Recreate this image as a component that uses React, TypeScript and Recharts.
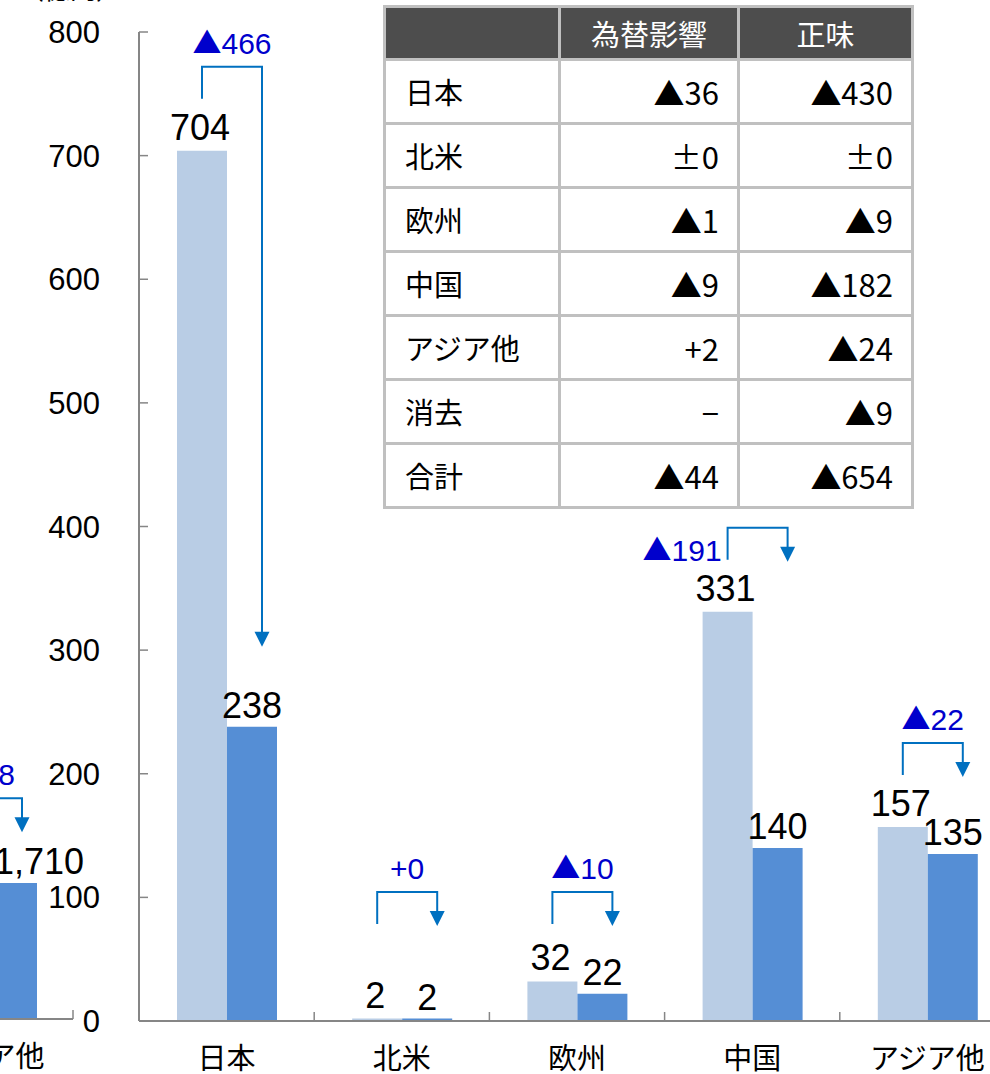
import { BarChart, Bar, XAxis, YAxis, LabelList } from "recharts";

// main chart: 前期 (light) vs 当期 (dark), 億円
const categories = ["日本", "北米", "欧州", "中国", "アジア他"];
const prevValues = [704, 2, 32, 331, 157];
const currValues = [238, 2, 22, 140, 135];
const changeLabels = ["▲466", "+0", "▲10", "▲191", "▲22"];
const yTicks = [0, 100, 200, 300, 400, 500, 600, 700, 800];

// the neighbouring chart, cut off at the left edge
const leftCategories = ["アジア他"];
const leftPrev = [1718];
const leftCurr = [1710];
const leftChangeLabels = ["▲8"];

// breakdown table
const tableHeader = ["", "為替影響", "正味"];
const tableRegions = ["日本", "北米", "欧州", "中国", "アジア他", "消去", "合計"];
const fxImpact = ["▲36", "±0", "▲1", "▲9", "+2", "−", "▲44"];
const organic = ["▲430", "±0", "▲9", "▲182", "▲24", "▲9", "▲654"];

const data = categories.map((c, i) => ({ category: c, prev: prevValues[i], curr: currValues[i] }));
const leftData = leftCategories.map((c, i) => ({ category: c, prev: leftPrev[i], curr: leftCurr[i] }));

const LIGHT = "#b9cde5";
const DARK = "#558ed5";
const ARROW = "#0070c0";
const BLUE_TEXT = "#0000cc";
const AXIS = "#868686";
const FONT = '"Liberation Sans", Arial, "Noto Sans CJK JP", sans-serif';
const JP = '"Noto Sans CJK JP", "Noto Sans CJK SC", sans-serif';

const H = 1074;
const MAIN_W = 1015;
const Y_AXIS_W = 139;
const MAIN_BAND = (MAIN_W - Y_AXIS_W) / categories.length;
const LEFT_W = 172;
const LEFT_PAD = 120; // room on the right of the cut chart so its labels are not clipped
const TABLE_BOX = { left: 383, right: 914, bottom: 509 };

function CategoryTick(props: any) {
  const { x, y, payload, band } = props;
  return (
    <g>
      <line x1={x + band / 2} x2={x + band / 2} y1={y - 9} y2={y} stroke={AXIS} strokeWidth={1.5} />
      <text x={x} y={y + 48} textAnchor="middle" fontFamily={JP} fontSize={29} fill="#000">
        {payload.value}
      </text>
    </g>
  );
}

function ValueTick(props: any) {
  const { x, y, payload } = props;
  return (
    <g>
      <line x1={x} x2={x + 9} y1={y} y2={y} stroke={AXIS} strokeWidth={1.5} />
      <text x={x - 39} y={y + 11} textAnchor="end" fontFamily={FONT} fontSize={31} fill="#000">
        {payload.value}
      </text>
    </g>
  );
}

function box(props: any) {
  const vb = props.viewBox || {};
  return {
    x: vb.x ?? props.x,
    y: vb.y ?? props.y,
    width: vb.width ?? props.width,
    height: vb.height ?? props.height,
  };
}

// big ▲ like the original, digits in the latin font
function ChangeText({ label }: { label: string }) {
  if (label.startsWith("▲")) {
    return (
      <>
        <tspan fontFamily={JP} fontSize={29}>▲</tspan>
        <tspan>{label.slice(1)}</tspan>
      </>
    );
  }
  return <>{label}</>;
}

// light bar label + the bracket arrow to the dark bar + the blue change label
function makePrevLabel(prev: number[], curr: number[], changes: string[], shiftX: number) {
  return (props: any) => {
    const i = props.index;
    const { x, y, width, height } = box(props);
    const cxL = x + width / 2;
    const cxD = x + width * 1.5;
    const yZero = y + height;
    const ppu = height / prev[i];
    const yDark = yZero - curr[i] * ppu;
    const top = Math.min(y - 84, yZero - 129);
    const leftBottom = top + 32;
    const right = cxD + 10;
    const tip = prev[i] - curr[i] > 300 ? yDark - 80 : top + 34;
    const center = (cxL + right) / 2;
    const pageX = center + shiftX;
    const hitsTable = pageX > TABLE_BOX.left && pageX < TABLE_BOX.right && top - 40 < TABLE_BOX.bottom;
    return (
      <g>
        <text x={cxL - 2} y={y - 11} textAnchor="middle" fontFamily={FONT} fontSize={36} fill="#000">
          {prev[i]}
        </text>
        <path
          d={`M${cxL},${leftBottom} V${top} H${right} V${tip - 14}`}
          fill="none"
          stroke={ARROW}
          strokeWidth={2}
        />
        <polygon points={`${right - 7.5},${tip - 15} ${right + 7.5},${tip - 15} ${right},${tip}`} fill={ARROW} />
        {hitsTable ? (
          <text x={cxL - 6} y={top + 33} textAnchor="end" fontFamily={FONT} fontSize={30} fill={BLUE_TEXT}>
            <ChangeText label={changes[i]} />
          </text>
        ) : (
          <text x={center} y={top - 13} textAnchor="middle" fontFamily={FONT} fontSize={30} fill={BLUE_TEXT}>
            <ChangeText label={changes[i]} />
          </text>
        )}
      </g>
    );
  };
}

function makeCurrLabel(curr: number[], dx: number) {
  return (props: any) => {
    const i = props.index;
    const { x, y, width } = box(props);
    return (
      <text x={x + width / 2 + dx} y={y - 9} textAnchor="middle" fontFamily={FONT} fontSize={36} fill="#000">
        {curr[i].toLocaleString("en-US")}
      </text>
    );
  };
}

function Table() {
  const cell = { padding: 0, height: 61, lineHeight: 1, background: "#fff", color: "#000" };
  return (
    <table
      style={{
        position: "absolute",
        left: 383,
        top: 5,
        borderSpacing: 3,
        background: "#c0c0c0",
        fontFamily: JP,
        fontSize: 30,
      }}
    >
      <tbody>
        <tr>
          {tableHeader.map((h, k) => (
            <td
              key={k}
              style={{
                padding: 0,
                height: 50,
                lineHeight: 1,
                width: [172, 176, 171][k],
                background: "#4d4d4d",
                color: "#fff",
                textAlign: "center",
                fontSize: 29,
              }}
            >
              {h}
            </td>
          ))}
        </tr>
        {tableRegions.map((r, i) => (
          <tr key={r}>
            <td style={{ ...cell, width: 153, paddingLeft: 19, fontSize: 29 }}>{r}</td>
            <td style={{ ...cell, width: 158, paddingRight: 18, textAlign: "right", fontSize: 31 }}>{fxImpact[i]}</td>
            <td style={{ ...cell, width: 153, paddingRight: 18, textAlign: "right", fontSize: 31 }}>{organic[i]}</td>
          </tr>
        ))}
      </tbody>
    </table>
  );
}

export default function App() {
  return (
    <div
      style={{
        position: "absolute",
        left: 0,
        top: 0,
        width: 990,
        height: H,
        overflow: "hidden",
        background: "#fff",
      }}
    >
      <div style={{ position: "absolute", left: 18, top: -25, fontFamily: JP, fontSize: 26, lineHeight: 1 }}>
        （億円）
      </div>

      {/* neighbouring chart, mostly outside the frame */}
      <div style={{ position: "absolute", left: -99, top: 0 }}>
        <BarChart
          width={LEFT_W + LEFT_PAD}
          height={H}
          data={leftData}
          margin={{ top: 32, right: LEFT_PAD, bottom: 0, left: 0 }}
          barSize={50}
          barGap={0}
        >
          <XAxis
            dataKey="category"
            height={55}
            axisLine={{ stroke: AXIS, strokeWidth: 2 }}
            tickLine={false}
            tickSize={0}
            tickMargin={0}
            interval={0}
            tick={(p: any) => <CategoryTick {...p} band={LEFT_W} />}
          />
          <YAxis hide domain={[0, 12400]} />
          <Bar dataKey="prev" fill={LIGHT} isAnimationActive={false}>
            <LabelList dataKey="prev" content={makePrevLabel(leftPrev, leftCurr, leftChangeLabels, -99)} />
          </Bar>
          <Bar dataKey="curr" fill={DARK} isAnimationActive={false}>
            <LabelList dataKey="curr" content={makeCurrLabel(leftCurr, 27)} />
          </Bar>
        </BarChart>
      </div>

      <div style={{ position: "absolute", left: 0, top: 0 }}>
        <BarChart
          width={MAIN_W}
          height={H}
          data={data}
          margin={{ top: 32, right: 0, bottom: 0, left: 0 }}
          barSize={50}
          barGap={0}
        >
          <XAxis
            dataKey="category"
            height={53}
            axisLine={{ stroke: AXIS, strokeWidth: 2 }}
            tickLine={false}
            tickSize={0}
            tickMargin={0}
            interval={0}
            tick={(p: any) => <CategoryTick {...p} band={MAIN_BAND} />}
          />
          <YAxis
            width={Y_AXIS_W}
            domain={[0, 800]}
            ticks={yTicks}
            interval={0}
            axisLine={{ stroke: AXIS, strokeWidth: 2 }}
            tickLine={false}
            tickSize={0}
            tickMargin={0}
            tick={(p: any) => <ValueTick {...p} />}
          />
          <Bar dataKey="prev" fill={LIGHT} isAnimationActive={false}>
            <LabelList dataKey="prev" content={makePrevLabel(prevValues, currValues, changeLabels, 0)} />
          </Bar>
          <Bar dataKey="curr" fill={DARK} isAnimationActive={false}>
            <LabelList dataKey="curr" content={makeCurrLabel(currValues, 0)} />
          </Bar>
        </BarChart>
      </div>

      <Table />
    </div>
  );
}
